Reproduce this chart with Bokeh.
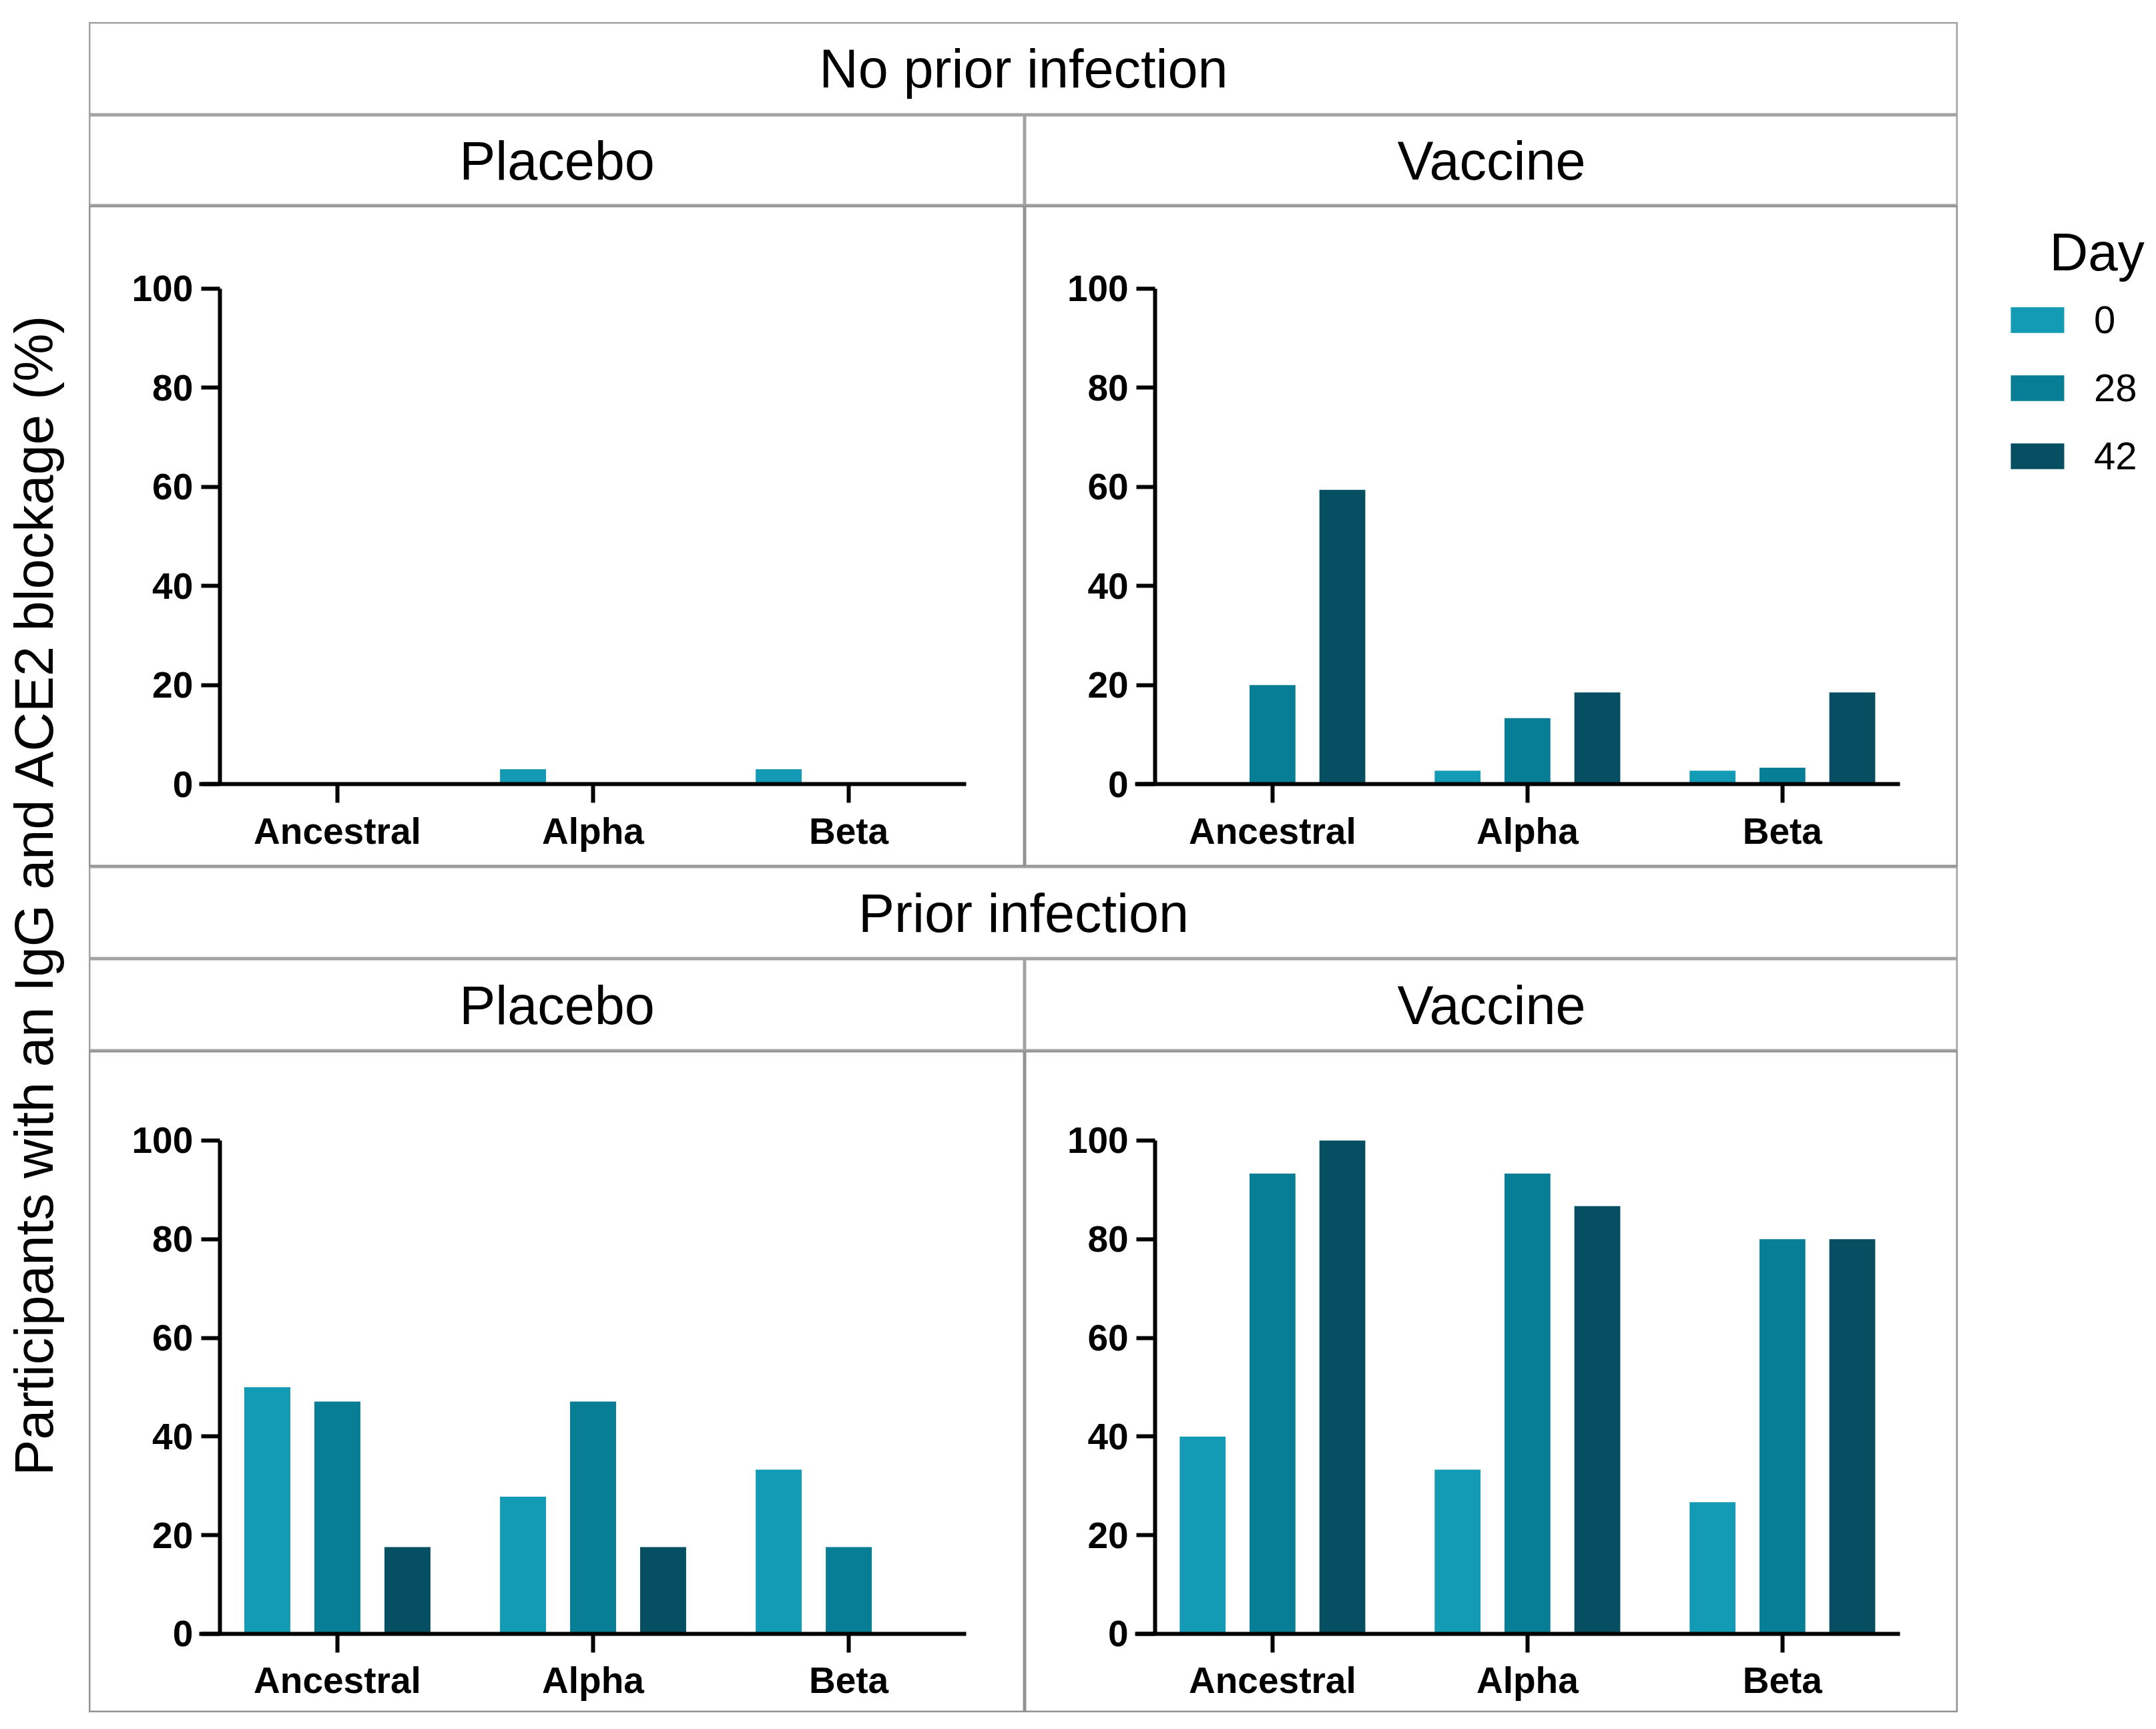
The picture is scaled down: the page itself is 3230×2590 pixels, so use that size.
from math import pi

from bokeh.plotting import figure
from bokeh.layouts import row, column
from bokeh.models import Range1d, FixedTicker, Label, Legend, LegendItem, ColumnDataSource, Spacer
from bokeh.transform import dodge
from bokeh.embed import file_html
from bokeh.resources import INLINE

variants = ["Ancestral", "Alpha", "Beta"]
days = ["0", "28", "42"]
day_colors = ["#139AB5", "#087D96", "#064F63"]
y_ticks = [0, 20, 40, 60, 80, 100]

# rows: day 0, day 28, day 42 -- columns follow `variants`
no_prior_placebo = [[0, 3.0, 3.0], [0, 0, 0], [0, 0, 0]]
no_prior_vaccine = [[0, 2.7, 2.7], [20.0, 13.3, 3.3], [59.4, 18.5, 18.5]]
prior_placebo = [[50.0, 27.8, 33.3], [47.1, 47.1, 17.6], [17.6, 17.6, 0]]
prior_vaccine = [[40.0, 33.3, 26.7], [93.3, 93.3, 80.0], [100.0, 86.7, 80.0]]

FONT = "Liberation Sans"
BOX = "#a3a3a3"
H = 2590


def blank(w, h):
    p = figure(width=w, height=h, x_range=Range1d(0, 1), y_range=Range1d(0, 1),
               x_axis_location=None, y_axis_location=None,
               toolbar_location=None, output_backend="svg", min_border=0)
    p.grid.visible = False
    return p


def header(text, w, h):
    p = blank(w, h)
    p.outline_line_color = BOX
    p.outline_line_width = 4
    p.add_layout(Label(x=w / 2, y=h / 2, x_units="screen", y_units="screen", text=text,
                       text_align="center", text_baseline="middle",
                       text_font=FONT, text_font_size="81px", text_color="black"))
    return p


def panel(values, w, h, y_start, y_end):
    p = figure(width=w, height=h, x_range=Range1d(-0.971, 2.689), y_range=Range1d(y_start, y_end),
               toolbar_location=None, output_backend="svg", min_border=0)
    p.grid.visible = False
    p.outline_line_color = "#929292"
    p.outline_line_width = 4

    src = ColumnDataSource(dict(idx=list(range(len(variants))),
                                d0=values[0], d28=values[1], d42=values[2]))
    for key, off, col in zip(["d0", "d28", "d42"], [-0.274, 0.0, 0.274], day_colors):
        p.vbar(x=dodge("idx", off, range=p.x_range), top=key, width=0.18,
               source=src, fill_color=col, line_color=None)

    p.xaxis.fixed_location = 0
    p.yaxis.fixed_location = -0.46
    p.xaxis.bounds = (-0.54, 2.46)
    p.yaxis.bounds = (0, 100)
    p.xaxis.ticker = FixedTicker(ticks=list(range(len(variants))))
    p.xaxis.major_label_overrides = {i: v for i, v in enumerate(variants)}
    p.yaxis.ticker = FixedTicker(ticks=y_ticks)
    p.axis.axis_line_width = 6
    p.axis.axis_line_color = "black"
    p.axis.major_tick_line_width = 6
    p.axis.major_tick_line_color = "black"
    p.axis.major_tick_out = 28
    p.axis.major_tick_in = 0
    p.axis.minor_tick_line_color = None
    p.axis.major_label_text_font = FONT
    p.axis.major_label_text_font_style = "bold"
    p.axis.major_label_text_font_size = "55px"
    p.axis.major_label_text_color = "black"
    p.xaxis.major_label_standoff = 11
    p.yaxis.major_label_standoff = 12
    return p


# y axis title column
ylab = blank(133, H)
ylab.outline_line_color = None
ylab.add_layout(Label(x=50, y=1251, x_units="screen", y_units="screen", angle=pi / 2,
                      text="Participants with an IgG and ACE2 blockage (%)",
                      text_align="center", text_baseline="middle",
                      text_font=FONT, text_font_size="81px", text_color="black"))

body = column(
    Spacer(width=2800, height=33),
    header("No prior infection", 2800, 139),
    row(header("Placebo", 1402, 136), header("Vaccine", 1398, 136)),
    row(panel(no_prior_placebo, 1402, 990, -16.7, 116.7),
        panel(no_prior_vaccine, 1398, 990, -16.7, 116.7)),
    header("Prior infection", 2800, 138),
    row(header("Placebo", 1402, 138), header("Vaccine", 1398, 138)),
    row(panel(prior_placebo, 1402, 991, -15.97, 118.13),
        panel(prior_vaccine, 1398, 991, -15.97, 118.13)),
)

# legend column: zero-height proxy bars only feed the legend swatches
leg = blank(297, H)
leg.outline_line_color = None
items = []
for d, col in zip(days, day_colors):
    r = leg.vbar(x=[0.5], top=[0], width=0.1, fill_color=col, line_color=None)
    items.append(LegendItem(label=d, renderers=[r]))
legend = Legend(items=items, location=(69, 1874), glyph_width=100, glyph_height=48,
                label_height=38, label_standoff=35, spacing=35, padding=0, margin=0,
                label_text_font=FONT, label_text_font_size="58px", label_text_color="black",
                border_line_color=None, background_fill_alpha=0)
leg.add_layout(legend)
leg.add_layout(Label(x=137, y=2213, x_units="screen", y_units="screen", text="Day",
                     text_baseline="middle", text_font=FONT, text_font_size="80px",
                     text_color="black"))

p = row(ylab, body, leg)

open("out.html", "w").write(file_html(p, INLINE))
